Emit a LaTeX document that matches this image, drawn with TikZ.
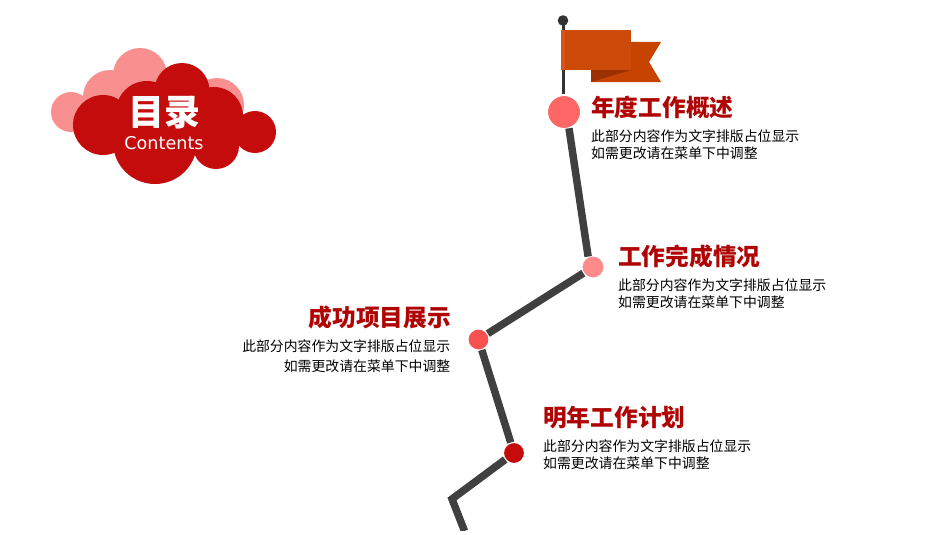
\documentclass[tikz,border=0pt]{standalone}
\usepackage{fontspec}
\setmainfont{DejaVu Sans}
\newfontfamily\cjk{Noto Sans CJK SC}
\definecolor{deepred}{HTML}{C40C0C}
\definecolor{lightred}{HTML}{F99090}
\definecolor{titlered}{HTML}{B00404}
\definecolor{linegray}{HTML}{404040}
\definecolor{flagback}{HTML}{C64400}
\definecolor{flagfold}{HTML}{9C3000}
\definecolor{flagmain}{HTML}{CC4A0A}
\definecolor{flagedge}{HTML}{D9541A}
\definecolor{dotone}{HTML}{FF6666}
\definecolor{dottwo}{HTML}{FF8A8A}
\definecolor{dotthree}{HTML}{F95050}
\tikzset{
  x=1pt,y=-1pt,
  cloudlight/.style={fill=lightred,draw=none},
  clouddark/.style={fill=deepred,draw=none},
  stopdot/.style={circle,draw=white,line width=2pt,inner sep=0pt,outer sep=0pt,minimum size=#1},
  trail/.style={draw=linegray,line width=7.5pt,line cap=butt,line join=miter},
  headline/.style={font=\cjk\fontsize{23.7}{26}\selectfont\bfseries,text=titlered,inner sep=0pt},
  bodytext/.style={font=\cjk\fontsize{13.87}{17}\selectfont,text=black,inner sep=0pt,align=#1},
}
\begin{document}
\begin{tikzpicture}
\useasboundingbox (0,0) rectangle (950,535);
% cloud
\fill[cloudlight] (71,112) circle (20);
\fill[cloudlight] (140,75) circle (27);
\fill[cloudlight] (110,97) circle (27);
\fill[cloudlight] (217,105) circle (27);
\fill[clouddark] (103,125) circle (30);
\fill[clouddark] (147,112) circle (31);
\fill[clouddark] (182,90.5) circle (27.5);
\fill[clouddark] (214,116) circle (29);
\fill[clouddark] (255,132) circle (21);
\fill[clouddark] (155,142) circle (42);
\fill[clouddark] (216,146) circle (23);
\node[font=\cjk\fontsize{36}{38}\selectfont\bfseries,text=white,inner sep=0pt] (cloudtitle) at (164,113) {目录};
\node[font=\fontsize{17.6}{20}\selectfont,text=white,inner sep=0pt] (cloudsub) at (164,143) {Contents};
% flag
\fill[linegray!80!black] (561.5,20) rectangle (564.5,97);
\fill[black!80] (563,20.5) circle (5.3);
\fill[flagback] (591,42) -- (661,42) -- (649,62) -- (661,82) -- (591,82) -- cycle;
\fill[flagfold] (591,70) -- (631,70) -- (591,82) -- cycle;
\fill[flagmain] (561,30) rectangle (631,70);
\fill[flagedge] (561,30) rectangle (565,70);
% stops
\node[stopdot=34pt,fill=dotone] (s1) at (564,112) {};
\node[stopdot=23pt,fill=dottwo] (s2) at (593,267) {};
\node[stopdot=22pt,fill=dotthree] (s3) at (478.5,339.5) {};
\node[stopdot=22pt,fill=deepred] (s4) at (514,453) {};
\coordinate (bend) at (452,499);
\coordinate (exit) at (464.5,531);
\draw[trail] (s1.-73) -- (s2.115);
\draw[trail] (s2) -- (s3);
\draw[trail] (s3) -- (s4);
\draw[trail] (s4) -- (bend) -- (exit);
\fill[white] (440,531) rectangle (480,540);
% texts
\node[headline,anchor=west] (h1) at (591,107) {年度工作概述};
\node[bodytext=left,anchor=north west] (b1) at (591,130) {此部分内容作为文字排版占位显示\\如需更改请在菜单下中调整};
\node[headline,anchor=west] (h2) at (618,256) {工作完成情况};
\node[bodytext=left,anchor=north west] (b2) at (618,279) {此部分内容作为文字排版占位显示\\如需更改请在菜单下中调整};
\node[headline,anchor=east] (h3) at (451,317) {成功项目展示};
\node[font=\cjk\fontsize{13.87}{20.5}\selectfont,text=black,inner sep=0pt,align=right,anchor=north east] (b3) at (450.5,339.5) {此部分内容作为文字排版占位显示\\如需更改请在菜单下中调整};
\node[headline,anchor=west] (h4) at (543,418) {明年工作计划};
\node[bodytext=left,anchor=north west] (b4) at (543,440) {此部分内容作为文字排版占位显示\\如需更改请在菜单下中调整};
\end{tikzpicture}
\end{document}
